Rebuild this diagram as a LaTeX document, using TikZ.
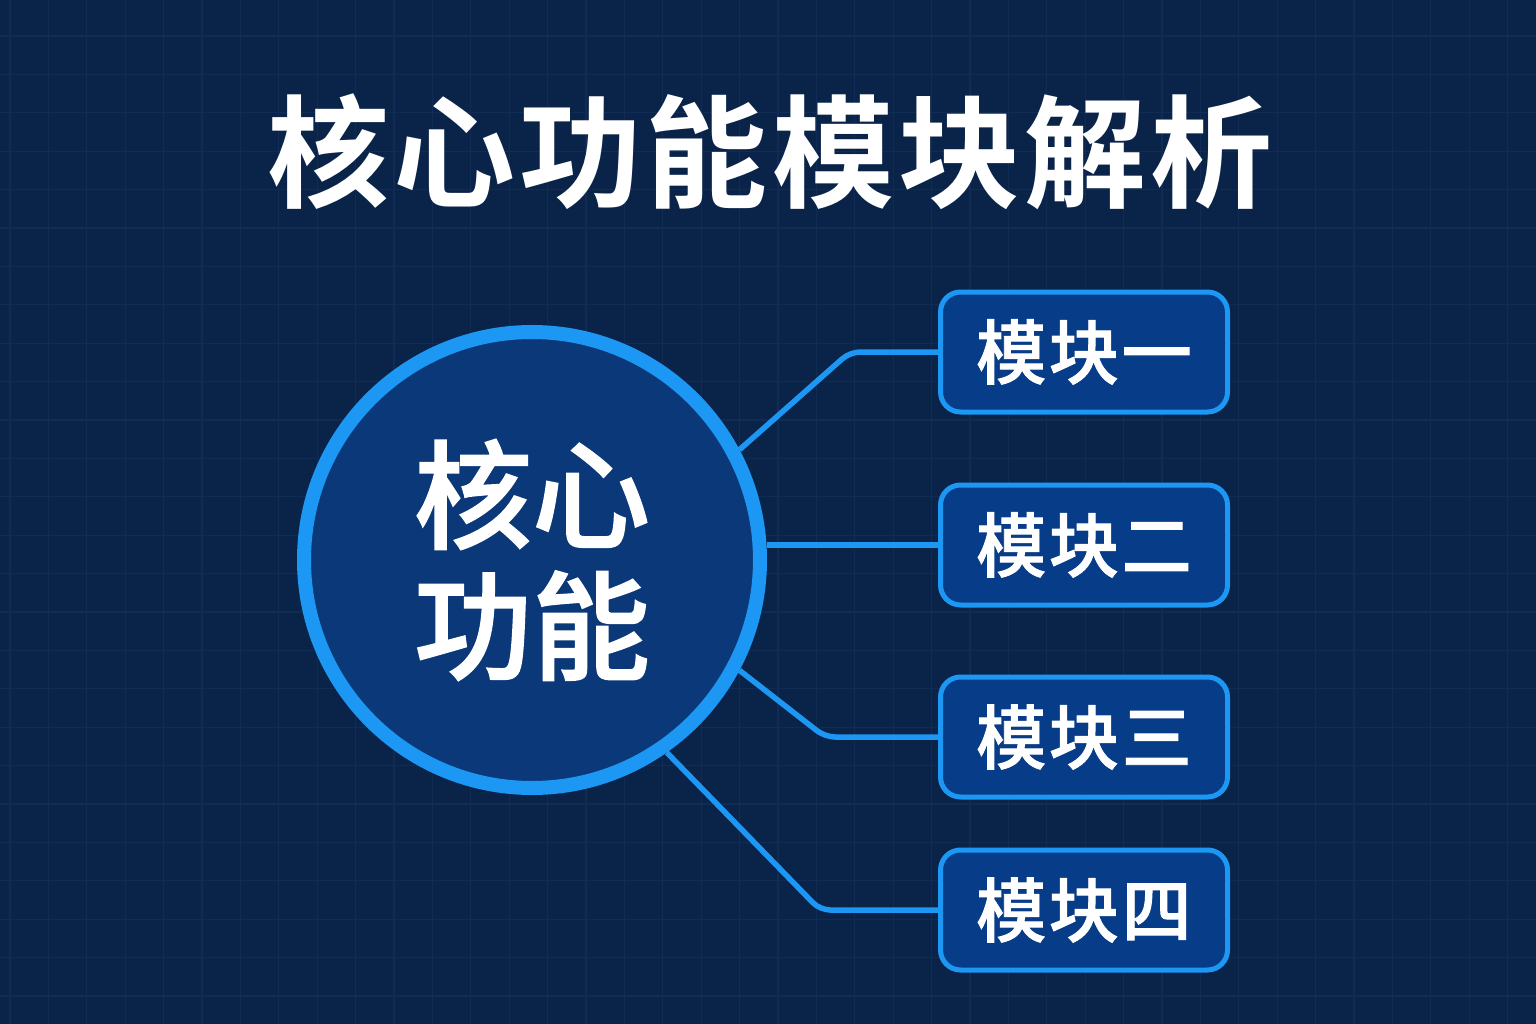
\documentclass[tikz,border=0pt]{standalone}
\usepackage{fontspec}
\newfontfamily\cjk{Noto Sans CJK SC Medium}[FakeBold=1.3]
\newfontfamily\cjkb{Noto Sans CJK SC Medium}[FakeBold=1.3,LetterSpace=4]
\newfontfamily\cjkt{Noto Sans CJK SC Bold}[LetterSpace=3.5]
\definecolor{bg}{HTML}{0A2349}
\definecolor{gridc}{HTML}{112C54}
\definecolor{ring}{HTML}{1C98F4}
\definecolor{circfill}{HTML}{0A3878}
\definecolor{boxfill}{HTML}{073C88}
\tikzset{
  gridline/.style={draw=gridc, line width=1.2},
  conn/.style={draw=ring, line width=5.5, rounded corners=10},
  modbox/.style={draw=ring, line width=5, fill=boxfill, rounded corners=20,
    minimum width=287, minimum height=120, inner sep=0,
    font=\cjkb\fontsize{70}{70}\selectfont, text=white},
}
\begin{document}
\begin{tikzpicture}[x=1pt,y=-1pt]
\useasboundingbox (0,0) rectangle (1536,1024);
\fill[bg] (0,0) rectangle (1536,1024);
\begin{scope}
\clip (0,0) rectangle (1536,1024);
\foreach \i in {0,...,39} \draw[gridline] ({10+38.4*\i},0) -- ++(0,1024);
\foreach \j in {0,...,26} \draw[gridline] (0,{36+38.4*\j}) -- ++(1536,0);
\end{scope}

\node[font=\cjkt\fontsize{122}{122}\selectfont, text=white] (title) at (770,152) {核心功能模块解析};

\node[circle, minimum size=456, inner sep=0, draw=ring, line width=14, fill=circfill,
  text=white, align=center, font=\cjk\fontsize{118}{131}\selectfont] (core) at (532,560) {核心\\功能};

\node[modbox] (m1) at (1084,352) {模块一};
\node[modbox] (m2) at (1084,545) {模块二};
\node[modbox] (m3) at (1084,737) {模块三};
\node[modbox] (m4) at (1084,910) {模块四};

\draw[conn] (core.28) -- ([xshift=-88]m1.west) -- (m1.west);
\draw[conn] (m2.west -| core.east) -- (m2.west);
\draw[conn] (core.-28) -- ([xshift=-113]m3.west) -- (m3.west);
\draw[conn] (core.-55) -- ([xshift=-118]m4.west) -- (m4.west);
\end{tikzpicture}
\end{document}
